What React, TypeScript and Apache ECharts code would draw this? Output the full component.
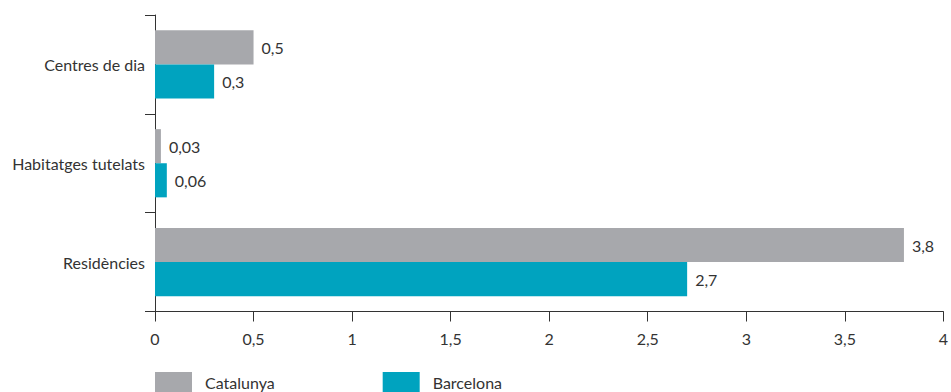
import React, { useEffect, useRef } from "react";
import * as echarts from "echarts";

// Categories, top to bottom
const categories = ["Centres de dia", "Habitatges tutelats", "Residències"];
const seriesNames = ["Catalunya", "Barcelona"];
const catalunya = [0.5, 0.03, 3.8];
const barcelona = [0.3, 0.06, 2.7];
const colors = ["#a7a8ac", "#00a3bf"];

const textColor = "#333333";
const font = "Lato, 'Noto Sans', sans-serif";
const fmt = (v: number) => String(v).replace(".", ",");

export default function App() {
  const ref = useRef<HTMLDivElement>(null);

  useEffect(() => {
    if (!ref.current) return;
    const chart = echarts.init(ref.current, undefined, { renderer: "svg" });
    const barLabel = {
      show: true,
      position: "right" as const,
      distance: 8,
      color: textColor,
      fontFamily: font,
      fontSize: 16,
      formatter: (p: any) => fmt(p.value),
    };
    chart.setOption({
      animation: false,
      textStyle: { fontFamily: font },
      grid: { left: 155, right: 5, top: 15, bottom: 80.5, containLabel: false },
      legend: {
        left: 155,
        top: 372,
        padding: 0,
        itemWidth: 37,
        itemHeight: 20,
        itemGap: 108,
        icon: "rect",
        selectedMode: false,
        textStyle: { color: textColor, fontSize: 16, fontFamily: font, padding: [0, 0, 0, 8] },
        data: seriesNames,
      },
      xAxis: {
        type: "value",
        min: 0,
        max: 4,
        interval: 0.5,
        axisLine: { show: true, lineStyle: { color: textColor, width: 1 } },
        axisTick: { show: true, length: 10, lineStyle: { color: textColor } },
        splitLine: { show: false },
        axisLabel: { color: textColor, fontSize: 16, margin: 19, formatter: (v: number) => fmt(v) },
      },
      yAxis: {
        type: "category",
        inverse: true,
        data: categories,
        axisLine: { show: true, lineStyle: { color: textColor, width: 1 } },
        axisTick: { show: true, length: 10, lineStyle: { color: textColor } },
        axisLabel: { color: textColor, fontSize: 16, margin: 10 },
      },
      series: [
        {
          name: seriesNames[0],
          type: "bar",
          data: catalunya,
          itemStyle: { color: colors[0] },
          barGap: "0%",
          barCategoryGap: "31%",
          label: barLabel,
        },
        {
          name: seriesNames[1],
          type: "bar",
          data: barcelona,
          itemStyle: { color: colors[1] },
          barGap: "0%",
          barCategoryGap: "31%",
          label: barLabel,
        },
      ],
    });
    return () => chart.dispose();
  }, []);

  return (
    <div
      ref={ref}
      style={{ position: "fixed", left: 0, top: 0, width: 951, height: 392, background: "#fff" }}
    />
  );
}
